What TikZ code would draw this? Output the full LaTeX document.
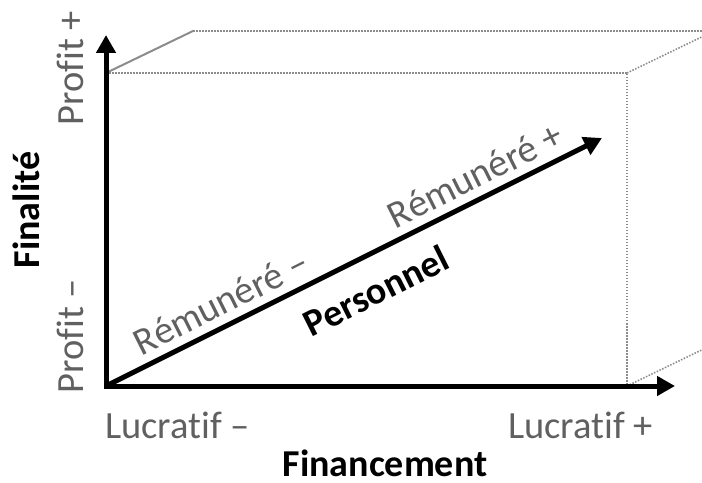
\documentclass[tikz,border=0pt]{standalone}
\usepackage{fontspec}
\setmainfont[Ligatures=CommonOff]{Carlito}
\usetikzlibrary{arrows.meta}
\definecolor{labelgray}{RGB}{96,96,96}
\definecolor{edgegray}{RGB}{140,140,140}
\tikzset{
  axis/.style={line width=5bp, line join=miter,
    {Triangle[width=19bp,length=18bp]}-{Triangle[width=19bp,length=18bp]}},
  vector/.style={line width=5bp, -{Triangle[width=19bp,length=18bp]}},
  hidden/.style={edgegray, line width=1.6bp, dash pattern=on 1.5bp off 1.5bp},
  visible/.style={edgegray, line width=2bp},
  scale label/.style={text=labelgray, inner sep=0pt, font=\fontsize{38.5bp}{42bp}\selectfont},
  axis label/.style={text=black, inner sep=0pt, font=\fontsize{38bp}{42bp}\selectfont\bfseries},
}
\begin{document}
\begin{tikzpicture}[x=1bp, y=-1bp]
  \useasboundingbox (0,0) rectangle (702,483);
  % reference points
  \coordinate (O) at (106,386);
  \coordinate (ytip) at (106,35);
  \coordinate (xtip) at (675,386);
  \coordinate (ptip) at (602,138);
  % cube edges: front face and its copy shifted back by (87,-42)
  \coordinate (A) at (106,73);
  \coordinate (B) at (627,73);
  \coordinate (C) at (627,386);
  \coordinate (Ab) at (193,31);
  \coordinate (Bb) at (714,31);
  \coordinate (Cb) at (714,344);
  \begin{scope}
    \clip (0,0) rectangle (702,483);
    \draw[visible] (A) -- (Ab);
    \draw[hidden] (Ab) -- (Bb);
    \draw[hidden] (A) -- (B) -- (C);
    \draw[hidden] (B) -- (Bb);
    \draw[hidden] (C) -- (Cb);
  \end{scope}
  % axes
  \draw[axis] (ytip) -- (O) -- (xtip);
  \draw[vector] (O) -- (ptip);
  % scale labels
  \node[scale label, rotate=90, anchor=base] (pplus) at (83,68) {Profit +};
  \node[scale label, rotate=90, anchor=base] (pminus) at (83,336) {Profit –};
  \node[scale label, anchor=base west] (lminus) at (105,438) {Lucratif –};
  \node[scale label, anchor=base west] (lplus) at (508,438) {Lucratif +};
  \node[scale label, rotate=26.565] (rminus) at (221,302) {Rémunéré –};
  \node[scale label, rotate=26.565] (rplus) at (475,175) {Rémunéré +};
  % axis titles
  \node[axis label, anchor=base] (fin) at (385,476) {Financement};
  \node[axis label, rotate=90, anchor=base] (final) at (39,210) {Finalité};
  \node[axis label, rotate=26.565] (pers) at (376,291) {Personnel};
\end{tikzpicture}
\end{document}
